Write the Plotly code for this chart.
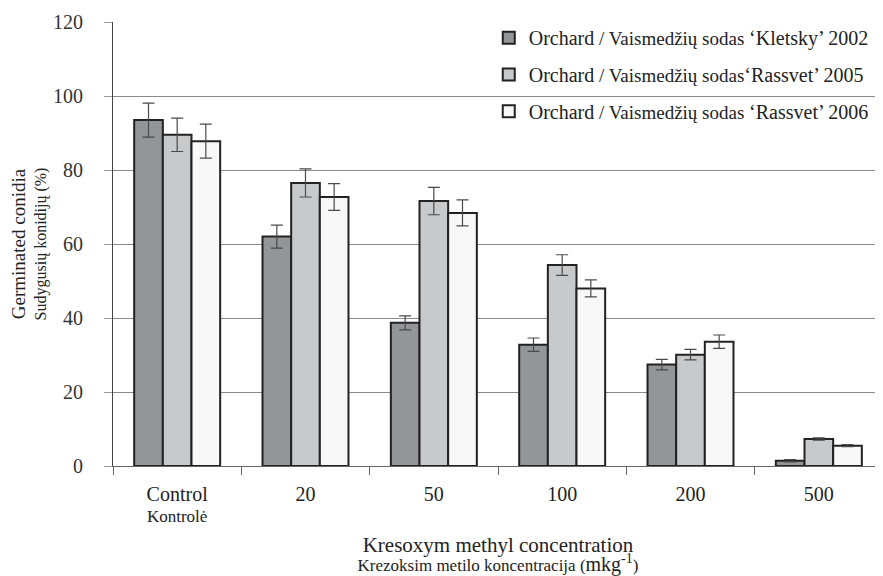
import plotly.graph_objects as go

def big(t):
    return "<span style='font-size:20px'>" + t + "</span>"

categories = ["Control", "20", "50", "100", "200", "500"]
category_labels = [big("Control") + "<br><span style='font-size:17px'>Kontrolė</span>",
                   big("20"), big("50"), big("100"), big("200"), big("500")]
kletsky_2002 = [93.5, 62.0, 38.7, 32.8, 27.4, 1.4]
kletsky_2002_err = [4.6, 3.1, 1.9, 1.8, 1.4, 0.3]
rassvet_2005 = [89.5, 76.5, 71.6, 54.3, 30.1, 7.3]
rassvet_2005_err = [4.5, 3.8, 3.7, 2.8, 1.4, 0.3]
rassvet_2006 = [87.8, 72.7, 68.4, 48.0, 33.6, 5.5]
rassvet_2006_err = [4.6, 3.6, 3.5, 2.3, 1.8, 0.3]
y_ticks = [0, 20, 40, 60, 80, 100, 120]

names = [
    "<span style='font-size:20px'>Orchard</span> / Vaismedžių sodas <span style='font-size:20px'>‘Kletsky’ 2002</span>",
    "<span style='font-size:20px'>Orchard</span> / Vaismedžių sodas<span style='font-size:20px'>‘Rassvet’ 2005</span>",
    "<span style='font-size:20px'>Orchard</span> / Vaismedžių sodas <span style='font-size:20px'>‘Rassvet’ 2006</span>",
]
series = [kletsky_2002, rassvet_2005, rassvet_2006]
errors = [kletsky_2002_err, rassvet_2005_err, rassvet_2006_err]
colors = ["#939598", "#c8c9cb", "#f8f8f8"]

SERIF = "Liberation Serif, Times New Roman, serif"

fig = go.Figure()
for i in range(3):
    fig.add_trace(go.Bar(
        x=categories, y=series[i], name=names[i],
        marker=dict(color=colors[i], line=dict(color="#222222", width=2)),
        error_y=dict(type="data", array=errors[i], color="#4a4a4a", thickness=1.2, width=6),
        legendgroup=str(i),
    ))
# invisible helper trace carrying the tick labels on the overlay axes
fig.add_trace(go.Scatter(x=categories, y=[0] * len(categories), mode="none",
                         xaxis="x2", yaxis="y2", showlegend=False, hoverinfo="skip"))

fig.update_layout(
    width=875, height=568,
    margin=dict(l=105, r=0, t=14, b=110, autoexpand=False),
    paper_bgcolor="white", plot_bgcolor="white",
    barmode="group", bargap=0.33, bargroupgap=0,
    font=dict(family=SERIF, color="#222222", size=17),
    legend=dict(x=0.488, xanchor="left", y=1.007, yanchor="top",
                bgcolor="rgba(0,0,0,0)", tracegroupgap=9,
                font=dict(size=19, family=SERIF, color="#222222")),
    xaxis=dict(
        automargin=False,
        categoryorder="array", categoryarray=categories,
        range=[-0.5, 5.5],
        showline=True, linecolor="#666666", linewidth=1,
        ticks="outside", tickson="boundaries", ticklen=8, tickcolor="#666666",
        showticklabels=False,
    ),
    xaxis2=dict(
        automargin=False, overlaying="x", anchor="y", side="bottom",
        categoryorder="array", categoryarray=categories,
        range=[-0.5, 5.5],
        showline=False, showgrid=False, zeroline=False,
        ticks="outside", ticklen=15, tickcolor="rgba(0,0,0,0)",
        tickmode="array", tickvals=categories, ticktext=category_labels,
        tickfont=dict(size=16, family=SERIF, color="#222222"),
        title=dict(text="<span style='font-size:21px'>Kresoxym methyl concentration</span><br><span style='font-size:17px'>Krezoksim metilo koncentracija (</span><span style='font-size:20px'>mkg<sup>-1</sup></span><span style='font-size:17px'>)</span>",
                   standoff=22, font=dict(family=SERIF, color="#222222", size=15)),
    ),
    yaxis=dict(
        automargin=False,
        range=[0, 120], tickvals=y_ticks,
        showline=True, linecolor="#444444", linewidth=1,
        showgrid=True, gridcolor="#8a8a8a", gridwidth=1,
        ticks="outside", ticklen=8, tickcolor="#999999",
        showticklabels=False,
        zeroline=False,
    ),
    yaxis2=dict(
        automargin=False, overlaying="y", anchor="x", side="left",
        range=[0, 120], tickvals=y_ticks,
        showline=False, showgrid=False, zeroline=False,
        ticks="outside", ticklen=25, tickcolor="rgba(0,0,0,0)",
        tickfont=dict(size=20, family=SERIF, color="#333333"),
        title=dict(text="<span style='font-size:19px'>Germinated conidia</span><br><span style='font-size:16px'>Sudygusių konidijų (%)</span>",
                   standoff=4, font=dict(family=SERIF, color="#222222", size=16)),
    ),
)

fig.write_html("out.html")
